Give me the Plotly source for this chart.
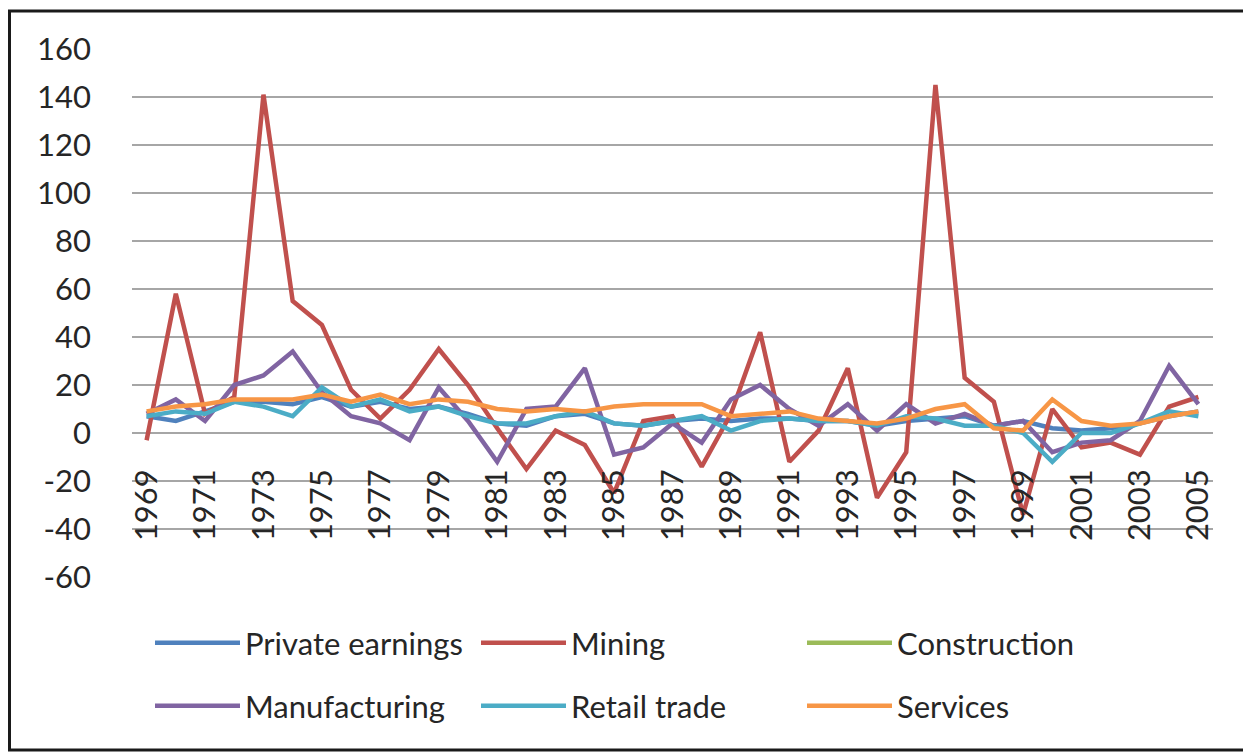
import plotly.graph_objects as go

years = [str(y) for y in range(1969, 2006)]

private_earnings = [7, 5, 9, 13, 13, 12, 15, 11, 13, 10, 11, 8, 4, 3, 7, 8, 4, 3, 5, 6, 5, 6, 6, 5,
                    5, 3, 5, 6, 7, 3, 5, 2, 1, 2, 4, 7, 9]
mining = [-3, 58, 8, 15, 141, 55, 45, 18, 6, 18, 35, 20, 2, -15, 1, -5, -25, 5, 7, -14, 8, 42, -12, 1,
          27, -27, -8, 145, 23, 13, -34, 10, -6, -4, -9, 11, 15]
construction = [None] * len(years)
manufacturing = [8, 14, 5, 20, 24, 34, 17, 7, 4, -3, 19, 5, -12, 10, 11, 27, -9, -6, 4, -4, 14, 20, 10, 3,
                 12, 1, 12, 4, 8, 3, 5, -8, -4, -3, 5, 28, 12]
retail_trade = [7, 9, 8, 13, 11, 7, 19, 11, 14, 9, 11, 7, 4, 4, 7, 9, 4, 3, 5, 7, 1, 5, 6, 5,
                5, 3, 7, 6, 3, 3, 0, -12, 0, 0, 4, 9, 7]
services = [9, 11, 12, 14, 14, 14, 16, 13, 16, 12, 14, 13, 10, 9, 10, 9, 11, 12, 12, 12, 7, 8, 9, 6,
            5, 4, 6, 10, 12, 2, 1, 14, 5, 3, 4, 7, 9]

y_ticks = list(range(-60, 161, 20))
y_labels = [str(v) for v in y_ticks]  # plain hyphen like the original

series = [
    ("Private earnings", private_earnings, "#4F81BD", "legend"),
    ("Mining", mining, "#C0504D", "legend"),
    ("Construction", construction, "#9BBB59", "legend"),
    ("Manufacturing", manufacturing, "#8064A2", "legend2"),
    ("Retail trade", retail_trade, "#4BACC6", "legend2"),
    ("Services", services, "#F79646", "legend2"),
]

# the page puts the figure 8px in from the corner, so work in figure pixels
W, H = 1243, 745
L, R, T, B = 124, 38, 41, 176
pw, ph = W - L - R, H - T - B

def px_x(p):
    return (p - L) / pw

def px_y(p):
    return (H - B - p) / ph

font = "Lato, 'Open Sans', sans-serif"
fsize = 31

fig = go.Figure()
for name, vals, color, lg in series:
    fig.add_trace(go.Scatter(x=years, y=vals, name=name, mode="lines",
                             line=dict(color=color, width=4.5), legend=lg))

fig.update_xaxes(type="category", range=[-0.5, len(years) - 0.5],
                 tickvals=years[::2], tickangle=-90, showgrid=False,
                 anchor="free", position=(0 + 60) / 220, showline=False,
                 ticks="", ticklabelstandoff=29,
                 tickfont=dict(size=fsize, color="#262626", family=font))
fig.update_yaxes(range=[-60, 160], tickvals=y_ticks, ticktext=y_labels,
                 showgrid=True, gridcolor="#A6A6A6",
                 gridwidth=2, zeroline=False, showline=False, ticks="",
                 ticklabelstandoff=40,
                 tickfont=dict(size=fsize, color="#262626", family=font))

leg = dict(orientation="h", xanchor="left", yanchor="middle",
           entrywidth=226, entrywidthmode="pixels", itemwidth=85,
           font=dict(size=fsize, color="#262626", family=font),
           bgcolor="rgba(0,0,0,0)")
fig.update_layout(
    width=W, height=H,
    margin=dict(l=L, r=R, t=T, b=B, pad=0),
    paper_bgcolor="white", plot_bgcolor="white",
    showlegend=True,
    legend=dict(leg, x=px_x(142), y=px_y(635)),
    legend2=dict(leg, x=px_x(142), y=px_y(698)),
    shapes=[
        dict(type="rect", xref="paper", yref="paper",
             x0=px_x(1.5), x1=px_x(1239), y0=px_y(742), y1=px_y(3),
             line=dict(color="#1a1a1a", width=3), layer="below"),
    ],
)

fig.write_html("out.html")
